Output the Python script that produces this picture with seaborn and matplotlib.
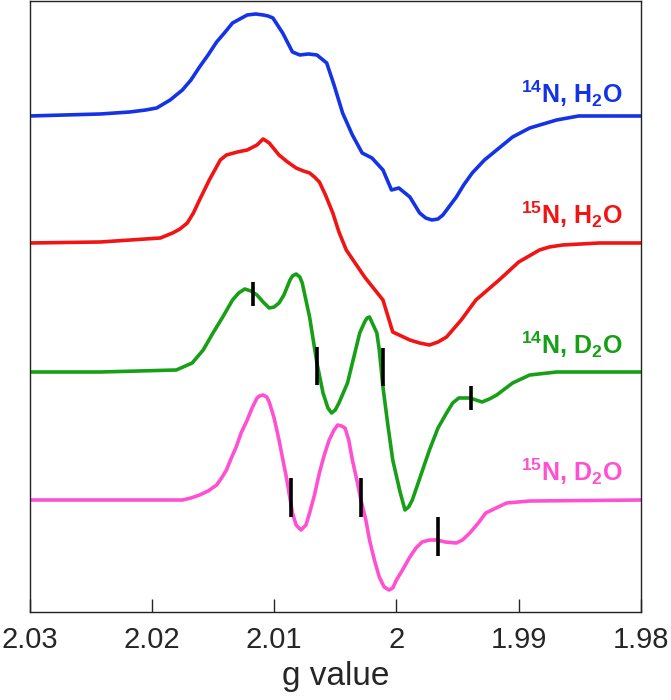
import matplotlib
matplotlib.use("Agg")
import matplotlib.pyplot as plt
import numpy as np
import pandas as pd
import seaborn as sns

# ---- spectra (g value, signal relative to baseline) ----
g_14n_h2o = [2.0300, 2.0242, 2.0218, 2.0205, 2.0196, 2.0185, 2.0175, 2.0168, 2.0161, 2.0154,
             2.0147, 2.0140, 2.0134, 2.0128, 2.0122, 2.0115, 2.0109, 2.0105, 2.0101, 2.0093,
             2.0085, 2.0079, 2.0072, 2.0065, 2.0057, 2.0051, 2.0044, 2.0036, 2.0028, 2.0020,
             2.0011, 2.0004, 1.9998, 1.9989, 1.9981, 1.9976, 1.9971, 1.9966, 1.9962, 1.9951,
             1.9945, 1.9938, 1.9928, 1.9918, 1.9905, 1.9891, 1.9869, 1.9851, 1.9800]
i_14n_h2o = [0, 2, 4, 6, 8, 16, 26, 36, 49, 61,
             74, 84, 93, 97, 101, 102, 101, 100, 98, 83,
             64, 61, 62, 61, 53, 31, 3, -19, -37, -42,
             -54, -74, -72, -81, -97, -102, -104, -103, -99, -81,
             -69, -57, -44, -34, -21, -12, -4, 0, 0]

g_15n_h2o = [2.0300, 2.0242, 2.0193, 2.0183, 2.0177, 2.0171, 2.0166, 2.0161, 2.0153, 2.0144,
             2.0139, 2.0130, 2.0122, 2.0114, 2.0109, 2.0104, 2.0100, 2.0096, 2.0089, 2.0082,
             2.0076, 2.0071, 2.0067, 2.0063, 2.0058, 2.0052, 2.0047, 2.0041, 2.0026, 2.0011,
             2.0003, 1.9989, 1.9981, 1.9973, 1.9966, 1.9959, 1.9947, 1.9935, 1.9916, 1.9900,
             1.9883, 1.9875, 1.9864, 1.9834, 1.9800]
i_15n_h2o = [0, 1, 5, 10, 14, 20, 30, 43, 63, 83,
             88, 91, 93, 98, 104, 100, 94, 88, 81, 75,
             72, 70, 66, 61, 48, 30, 11, -7, -34, -57,
             -89, -97, -100, -102, -99, -94, -77, -57, -37, -19,
             -7, -4, -2, 0, 0]

g_14n_d2o = [2.0300, 2.0242, 2.0180, 2.0167, 2.0158, 2.0150, 2.0142, 2.0134, 2.0129, 2.0124,
             2.0119, 2.0114, 2.0109, 2.0104, 2.0100, 2.0096, 2.0092, 2.0087, 2.0085, 2.0082,
             2.0079, 2.0077, 2.0074, 2.0071, 2.0068, 2.0065, 2.0060, 2.0056, 2.0053, 2.0050,
             2.0047, 2.0040, 2.0035, 2.0030, 2.0026, 2.0024, 2.0022, 2.0016, 2.0014, 2.0011,
             2.0007, 2.0003, 1.9997, 1.9993, 1.9990, 1.9987, 1.9980, 1.9973, 1.9966, 1.9959,
             1.9954, 1.9949, 1.9940, 1.9935, 1.9930, 1.9924, 1.9918, 1.9905, 1.9891, 1.9869,
             1.9800]
i_14n_d2o = [0, 0, 2, 9, 22, 39, 55, 72, 79, 83,
             81, 77, 70, 64, 65, 69, 77, 92, 96, 98,
             95, 89, 72, 55, 32, 9, -21, -36, -41, -38,
             -31, -11, 14, 39, 50, 54, 55, 39, 22, -15,
             -53, -88, -120, -138, -135, -128, -103, -78, -56, -41,
             -31, -26, -26, -28, -30, -27, -23, -11, -3, 0,
             0]

g_15n_d2o = [2.0300, 2.0175, 2.0168, 2.0161, 2.0154, 2.0147, 2.0143, 2.0139, 2.0135, 2.0131,
             2.0127, 2.0122, 2.0118, 2.0114, 2.0112, 2.0109, 2.0106, 2.0104, 2.0100, 2.0096,
             2.0092, 2.0090, 2.0085, 2.0082, 2.0078, 2.0074, 2.0071, 2.0067, 2.0063, 2.0059,
             2.0055, 2.0051, 2.0048, 2.0045, 2.0042, 2.0039, 2.0036, 2.0032, 2.0029, 2.0025,
             2.0022, 2.0018, 2.0014, 2.0010, 2.0006, 2.0003, 2.0000, 1.9995, 1.9989, 1.9984,
             1.9979, 1.9973, 1.9967, 1.9960, 1.9951, 1.9946, 1.9940, 1.9933, 1.9927, 1.9910,
             1.9891, 1.9800]
i_15n_d2o = [0, 0, 2, 5, 9, 15, 22, 30, 42, 53,
             67, 80, 92, 102, 104, 105, 103, 98, 82, 60,
             35, 23, -13, -25, -30, -25, -13, 5, 27, 45,
             60, 70, 75, 74, 72, 60, 40, 18, 0, -20,
             -40, -60, -77, -87, -90, -88, -80, -70, -57, -48,
             -42, -40, -40, -42, -43, -40, -33, -23, -13, -3,
             -1, 0]

# black markers (g value, centre relative to baseline, length)
mark_14n_d2o_g = [2.0117, 2.0065, 2.0011, 1.9939]
mark_14n_d2o_y = [78, 6, 5, -26]
mark_14n_d2o_len = [24, 38, 38, 24]
mark_15n_d2o_g = [2.0086, 2.0029, 1.9966]
mark_15n_d2o_y = [3, 3, -36]
mark_15n_d2o_len = [39, 39, 39]

samples = ["14N, H2O", "15N, H2O", "14N, D2O", "15N, D2O"]
labels = [r"$^{\mathbf{14}}$N, H$_{\mathbf{2}}$O", r"$^{\mathbf{15}}$N, H$_{\mathbf{2}}$O",
          r"$^{\mathbf{14}}$N, D$_{\mathbf{2}}$O", r"$^{\mathbf{15}}$N, D$_{\mathbf{2}}$O"]
offsets = [496, 369, 240, 112]
label_y = [518, 397, 267, 140]
colors = ["#1433e6", "#f01414", "#17a017", "#ff50d2"]

sns.set_style("ticks")
plt.rcParams["font.family"] = ["Liberation Sans", "DejaVu Sans"]
plt.rcParams["mathtext.fontset"] = "custom"
plt.rcParams["mathtext.bf"] = "Liberation Sans:bold"
plt.rcParams["mathtext.rm"] = "Liberation Sans"

frames = []
for name, g, i, off in zip(samples,
                           [g_14n_h2o, g_15n_h2o, g_14n_d2o, g_15n_d2o],
                           [i_14n_h2o, i_15n_h2o, i_14n_d2o, i_15n_d2o],
                           offsets):
    frames.append(pd.DataFrame({"g": g, "signal": np.array(i) + off, "sample": name}))
df = pd.concat(frames, ignore_index=True)

fig = plt.figure(figsize=(6.71, 7), dpi=100)
ax = fig.add_axes([0.044, 0.1257, 0.9113, 0.8729])

sns.lineplot(data=df, x="g", y="signal", hue="sample", palette=colors,
             sort=False, estimator=None, linewidth=2.6, legend=False, ax=ax)

# tick marks on the D2O traces
for gs, ys, ls, off in [(mark_14n_d2o_g, mark_14n_d2o_y, mark_14n_d2o_len, offsets[2]),
                        (mark_15n_d2o_g, mark_15n_d2o_y, mark_15n_d2o_len, offsets[3])]:
    for gv, yv, lv in zip(gs, ys, ls):
        ax.vlines(gv, off + yv - lv / 2, off + yv + lv / 2, color="black", linewidth=2.6)

for lab, y, c in zip(labels, label_y, colors):
    ax.text(1.98155, y, lab, color=c, fontsize=18, fontweight="bold",
            ha="right", va="center")

ax.set_xlim(2.03, 1.98)
ax.set_ylim(0, 611)
ax.set_xticks([2.03, 2.02, 2.01, 2.00, 1.99, 1.98])
ax.set_xticklabels(["2.03", "2.02", "2.01", "2", "1.99", "1.98"])
ax.set_yticks([])
ax.set_ylabel("")
ax.set_xlabel("g value", fontsize=24, labelpad=5)
ax.tick_params(axis="x", direction="in", length=9.5, width=1, pad=10, labelsize=21)
for s in ax.spines.values():
    s.set_visible(True)
    s.set_linewidth(1.0)
    s.set_color("#222222")

fig.savefig("out.png", dpi=100)
